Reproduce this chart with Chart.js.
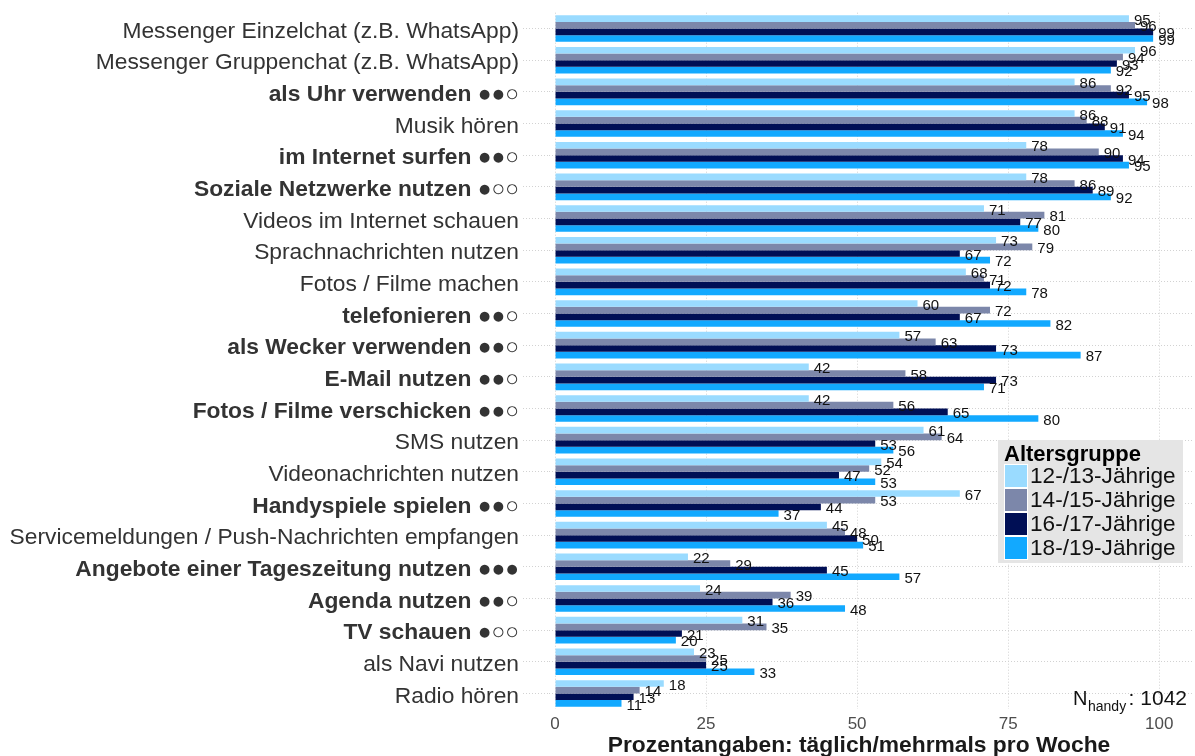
<!DOCTYPE html>
<html>
<head>
<meta charset="utf-8">
<script src="https://cdn.jsdelivr.net/npm/chart.js@4/dist/chart.umd.min.js"></script>
<style>
  html, body { margin: 0; padding: 0; background: #ffffff; }
  #wrap { width: 1195px; height: 756px; }
</style>
</head>
<body>
<div id="wrap"><canvas id="chart" width="1195" height="756"></canvas></div>
<script>
// Activities (top to bottom); entries with a ●/○ rating are printed in bold
const categories = [
  'Messenger Einzelchat (z.B. WhatsApp)',
  'Messenger Gruppenchat (z.B. WhatsApp)',
  'als Uhr verwenden ●●○',
  'Musik hören',
  'im Internet surfen ●●○',
  'Soziale Netzwerke nutzen ●○○',
  'Videos im Internet schauen',
  'Sprachnachrichten nutzen',
  'Fotos / Filme machen',
  'telefonieren ●●○',
  'als Wecker verwenden ●●○',
  'E-Mail nutzen ●●○',
  'Fotos / Filme verschicken ●●○',
  'SMS nutzen',
  'Videonachrichten nutzen',
  'Handyspiele spielen ●●○',
  'Servicemeldungen / Push-Nachrichten empfangen',
  'Angebote einer Tageszeitung nutzen ●●●',
  'Agenda nutzen ●●○',
  'TV schauen ●○○',
  'als Navi nutzen',
  'Radio hören'
];

// Age groups
const groups = ['12-/13-Jährige', '14-/15-Jährige', '16-/17-Jährige', '18-/19-Jährige'];

// Percent using it daily / several times a week
const age12_13 = [95, 96, 86, 86, 78, 78, 71, 73, 68, 60, 57, 42, 42, 61, 54, 67, 45, 22, 24, 31, 23, 18];
const age14_15 = [96, 94, 92, 88, 90, 86, 81, 79, 71, 72, 63, 58, 56, 64, 52, 53, 48, 29, 39, 35, 25, 14];
const age16_17 = [99, 93, 95, 91, 94, 89, 77, 67, 72, 67, 73, 73, 65, 53, 47, 44, 50, 45, 36, 21, 25, 13];
const age18_19 = [99, 92, 98, 94, 95, 92, 80, 72, 78, 82, 87, 71, 80, 56, 53, 37, 51, 57, 48, 20, 33, 11];

const xTicks = [0, 25, 50, 75, 100];
const sampleSize = 1042;

const colors = ['#9ADBFF', '#7C87AA', '#000F55', '#12A9FF'];
const FONT = '"Liberation Sans", Arial, Helvetica, sans-serif';

const seriesValues = [age12_13, age14_15, age16_17, age18_19];
const datasets = groups.map((g, i) => ({
  label: g,
  data: seriesValues[i],
  backgroundColor: colors[i],
  borderWidth: 0,
  categoryPercentage: 0.84,
  barPercentage: 1.0
}));

// Value labels to the right of each bar
const valueLabels = {
  id: 'valueLabels',
  afterDatasetsDraw(chart) {
    const ctx = chart.ctx;
    ctx.save();
    ctx.font = '15px ' + FONT;
    ctx.fillStyle = '#111111';
    ctx.textAlign = 'left';
    ctx.textBaseline = 'middle';
    chart.data.datasets.forEach((ds, di) => {
      const meta = chart.getDatasetMeta(di);
      meta.data.forEach((bar, i) => {
        ctx.fillText(String(ds.data[i]), bar.x + 5, bar.y + 2);
      });
    });
    ctx.restore();
  }
};

// Legend box inside the panel, axis title and sample size note
const decorations = {
  id: 'decorations',
  afterDraw(chart) {
    const ctx = chart.ctx;
    ctx.save();

    // legend
    const lx = 998, ly = 440, lw = 185, lh = 123;
    ctx.fillStyle = '#E5E5E5';
    ctx.fillRect(lx, ly, lw, lh);
    ctx.fillStyle = '#000000';
    ctx.font = 'bold 22px ' + FONT;
    ctx.textAlign = 'left';
    ctx.textBaseline = 'alphabetic';
    ctx.fillText('Altersgruppe', lx + 6, ly + 21);
    chart.data.datasets.forEach((ds, i) => {
      const sy = ly + 24 + i * 24;
      ctx.fillStyle = '#FFFFFF';
      ctx.fillRect(lx + 6, sy, 24, 24);
      ctx.fillStyle = ds.backgroundColor;
      ctx.fillRect(lx + 7, sy + 1, 22, 22);
      ctx.fillStyle = '#111111';
      ctx.font = '22.6px ' + FONT;
      ctx.textBaseline = 'middle';
      ctx.fillText(ds.label, lx + 32, sy + 13);
    });

    // sample size
    ctx.fillStyle = '#111111';
    ctx.textBaseline = 'alphabetic';
    ctx.textAlign = 'left';
    ctx.font = '20px ' + FONT;
    ctx.fillText('N', 1073, 705);
    ctx.font = '14px ' + FONT;
    ctx.fillText('handy', 1088, 711);
    ctx.font = '21px ' + FONT;
    ctx.textAlign = 'right';
    ctx.fillText(': ' + sampleSize, 1187, 705);

    // x axis title
    ctx.textAlign = 'center';
    ctx.font = 'bold 22.8px ' + FONT;
    ctx.fillStyle = '#1a1a1a';
    ctx.fillText('Prozentangaben: täglich/mehrmals pro Woche', 859, 752);

    ctx.restore();
  }
};

new Chart(document.getElementById('chart'), {
  type: 'bar',
  data: { labels: categories, datasets },
  options: {
    indexAxis: 'y',
    responsive: false,
    maintainAspectRatio: false,
    devicePixelRatio: 1,
    animation: false,
    layout: { padding: { top: 12.7, right: 2, left: 0, bottom: 0 } },
    plugins: {
      legend: { display: false },
      tooltip: { enabled: false },
      title: { display: false }
    },
    scales: {
      x: {
        type: 'linear',
        min: -1,
        max: 105.6,
        afterBuildTicks(scale) { scale.ticks = xTicks.map(v => ({ value: v })); },
        afterFit(scale) {
          scale.height = 46.7;
          scale.paddingLeft = 0;
          scale.paddingRight = 0;
        },
        ticks: {
          font: { family: FONT, size: 17 },
          color: '#4d4d4d',
          padding: 5,
          callback: v => String(v)
        },
        grid: { color: '#d2d2d2', lineWidth: 1, drawTicks: false },
        border: { display: false, dash: [1, 2] }
      },
      y: {
        type: 'category',
        afterFit(scale) {
          scale.width = 549;
          scale.paddingTop = 0;
          scale.paddingBottom = 0;
        },
        ticks: {
          autoSkip: false,
          padding: 4,
          labelOffset: 3,
          color: '#333333',
          font: ctx => {
            const lbl = categories[ctx.index] || '';
            const rated = /[●○]/.test(lbl);
            return { family: FONT, size: 22.8, weight: rated ? 'bold' : 'normal' };
          }
        },
        grid: {
          offset: false,
          color: '#d2d2d2',
          lineWidth: 1,
          drawTicks: true,
          tickLength: 26,
          tickColor: '#d2d2d2',
          tickBorderDash: [1, 2]
        },
        border: { display: false, dash: [1, 2] }
      }
    }
  },
  plugins: [valueLabels, decorations]
});
</script>
</body>
</html>
